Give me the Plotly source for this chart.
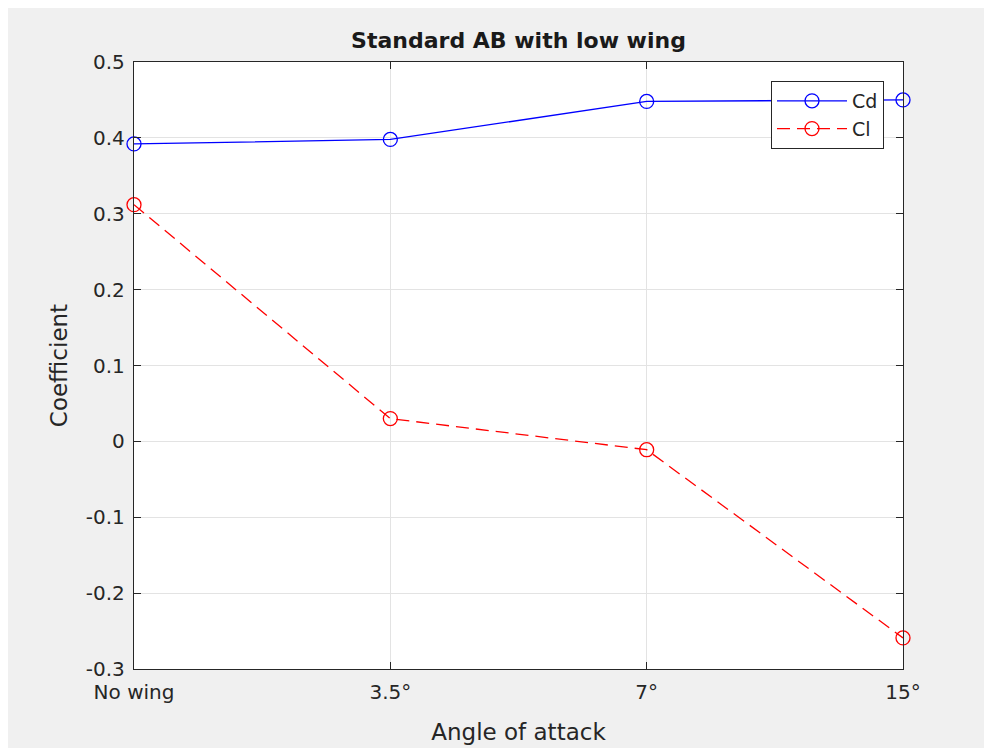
import plotly.graph_objects as go

categories = ["No wing", "3.5°", "7°", "15°"]
cd_values = [0.392, 0.398, 0.448, 0.450]
cl_values = [0.312, 0.030, -0.011, -0.259]
y_ticks = [-0.3, -0.2, -0.1, 0, 0.1, 0.2, 0.3, 0.4, 0.5]
y_tick_labels = ["-0.3", "-0.2", "-0.1", "0", "0.1", "0.2", "0.3", "0.4", "0.5"]

x_pos = list(range(len(categories)))

W, H = 984, 748
L, R, T, B = 134, 903, 62, 669

fig = go.Figure()
fig.add_trace(go.Scatter(
    x=x_pos, y=cd_values, name="Cd", mode="lines+markers",
    line=dict(color="#0000ff", width=1.3),
    marker=dict(symbol="circle-open", size=14, color="#0000ff", line=dict(width=1.3)),
    cliponaxis=False,
))
fig.add_trace(go.Scatter(
    x=x_pos, y=cl_values, name="Cl", mode="lines+markers",
    line=dict(color="#ff0000", width=1.3, dash="13px,7px"),
    marker=dict(symbol="circle-open", size=14, color="#ff0000", line=dict(width=1.3)),
    cliponaxis=False,
))

pw = R - L
ph = B - T
# white strips along top and left edges
fig.add_shape(type="rect", xref="paper", yref="paper",
              x0=-L / pw - 0.01, x1=(W - L) / pw + 0.01,
              y0=(B - 8) / ph, y1=B / ph + 0.01,
              fillcolor="white", line=dict(width=0), layer="below")
fig.add_shape(type="rect", xref="paper", yref="paper",
              x0=-L / pw - 0.01, x1=(8 - L) / pw,
              y0=(B - H) / ph - 0.01, y1=B / ph + 0.01,
              fillcolor="white", line=dict(width=0), layer="below")

font_family = "DejaVu Sans, Arial, sans-serif"
axis_common = dict(
    showline=True, linecolor="#262626", linewidth=1.3, mirror="ticks",
    ticks="inside", ticklen=7, tickcolor="#262626", tickwidth=1,
    showgrid=True, gridcolor="#e3e3e3", gridwidth=1, zeroline=False,
    automargin=False,
    tickfont=dict(family=font_family, size=20, color="#262626"),
)

fig.update_layout(
    width=W, height=H,
    margin=dict(l=L, r=W - R, t=T, b=H - B),
    paper_bgcolor="#f0f0f0", plot_bgcolor="white",
    font=dict(family=font_family, color="#262626"),
    title=dict(text="<b>Standard AB with low wing</b>", x=(L + R) / 2 / W, xanchor="center",
               y=1 - 40 / H, yanchor="middle", yref="container",
               font=dict(size=22, color="#1a1a1a", family=font_family)),
    xaxis=dict(range=[0, 3], tickvals=x_pos, ticktext=categories,
               title=dict(text="Angle of attack", font=dict(size=23, color="#262626"), standoff=20),
               ticklabelstandoff=5, **axis_common),
    yaxis=dict(range=[-0.3, 0.5], tickvals=y_ticks, ticktext=y_tick_labels,
               title=dict(text="Coefficient", font=dict(size=23, color="#262626"), standoff=11),
               ticklabelstandoff=4, **axis_common),
    legend=dict(x=(884 - L) / pw, xanchor="right", y=(B - 81) / ph, yanchor="top",
                bgcolor="white", bordercolor="#262626", borderwidth=1,
                font=dict(size=19, color="#262626", family=font_family),
                itemwidth=70, tracegroupgap=0),
    showlegend=True,
)

fig.write_html("out.html", post_script="document.body.style.background='#f0f0f0';document.body.style.margin='0';")
